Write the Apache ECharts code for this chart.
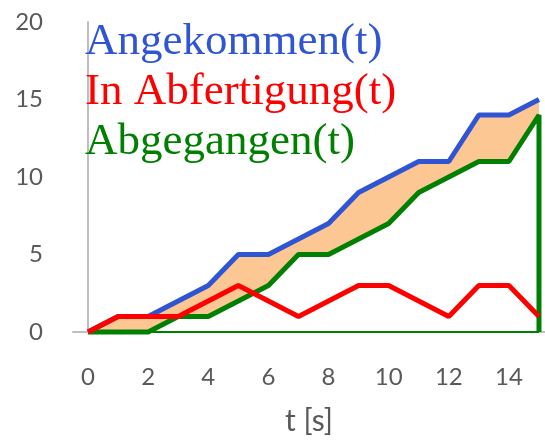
<!DOCTYPE html>
<html>
<head>
    <meta charset="utf-8">
    <title>Warteschlange</title>
    <script src="https://cdn.jsdelivr.net/npm/echarts@6/dist/echarts.min.js"></script>
</head>
<style>
    body { margin: 0; background: #fff; }
</style>
<body>
    <div id="main" style="width: 545px;height:441px;"></div>
    <script type="text/javascript">
        // Daten
        var zeit = [0, 1, 2, 3, 4, 5, 6, 7, 8, 9, 10, 11, 12, 13, 14, 15];
        var angekommen = [0, 1, 1, 2, 3, 5, 5, 6, 7, 9, 10, 11, 11, 14, 14, 15];
        var inAbfertigung = [0, 1, 1, 1, 2, 3, 2, 1, 2, 3, 3, 2, 1, 3, 3, 1];
        var abgegangen = [0, 0, 0, 1, 1, 2, 3, 5, 5, 6, 7, 9, 10, 11, 11, 14];
        var xTicks = [0, 2, 4, 6, 8, 10, 12, 14];

        function paare(ys) {
            return zeit.map(function (t, i) { return [t, ys[i]]; });
        }
        // green line drops to the axis at the end, then a thin line back to the start
        var abgLinie = paare(abgegangen).concat([[15, 0]]);
        var abgBoden = [[15, 0], [0, 0]];

        var myChart = echarts.init(document.getElementById('main'));

        var serif = 'Liberation Serif';
        var option = {
            animation: false,
            title: {
                left: 80,
                top: 12,
                text: '{a|Angekommen(t)}\n{b|In Abfertigung(t)}\n{c|Abgegangen(t)}',
                textStyle: {
                    rich: {
                        a: { color: '#2F55D4', fontSize: 45, fontFamily: serif, fontWeight: 'normal', lineHeight: 50 },
                        b: { color: '#FF0000', fontSize: 45, fontFamily: serif, fontWeight: 'normal', lineHeight: 50 },
                        c: { color: '#008000', fontSize: 45, fontFamily: serif, fontWeight: 'normal', lineHeight: 50 }
                    }
                }
            },
            grid: { left: 73, right: 0, top: 22, bottom: 108 },
            xAxis: {
                type: 'value',
                min: -0.5,
                max: 15.2,
                name: 't [s]',
                nameLocation: 'middle',
                nameGap: 74,
                nameTextStyle: { fontSize: 30, color: '#595959', fontFamily: 'Lato' },
                splitLine: { show: false },
                axisTick: { show: false },
                axisLine: { lineStyle: { color: '#BFBFBF', width: 2 } },
                axisLabel: {
                    customValues: xTicks,
                    fontSize: 24, color: '#595959', fontFamily: 'Lato', margin: 33
                }
            },
            yAxis: {
                type: 'value',
                min: 0,
                max: 20,
                interval: 5,
                splitLine: { show: false },
                axisTick: { show: false },
                axisLine: { show: true, lineStyle: { color: '#BFBFBF', width: 2 } },
                axisLabel: { fontSize: 24, color: '#595959', fontFamily: 'Lato', margin: 30 }
            },
            series: [
                {
                    type: 'line',
                    data: paare(angekommen),
                    symbol: 'none',
                    lineStyle: { width: 0 },
                    areaStyle: { color: '#FDC794', opacity: 1 },
                    z: 1
                },
                {
                    type: 'line',
                    data: paare(abgegangen),
                    symbol: 'none',
                    lineStyle: { width: 0 },
                    areaStyle: { color: '#FFFFFF', opacity: 1 },
                    z: 2
                },
                {
                    type: 'line',
                    data: abgBoden,
                    symbol: 'none',
                    clip: false,
                    lineStyle: { color: '#008000', width: 2 },
                    z: 3
                },
                {
                    name: 'Abgegangen(t)',
                    type: 'line',
                    data: abgLinie,
                    symbol: 'none',
                    clip: false,
                    lineStyle: { color: '#008000', width: 5 },
                    z: 3
                },
                {
                    name: 'Angekommen(t)',
                    type: 'line',
                    data: paare(angekommen),
                    symbol: 'none',
                    lineStyle: { color: '#2F55D4', width: 5 },
                    z: 4
                },
                {
                    name: 'In Abfertigung(t)',
                    type: 'line',
                    data: paare(inAbfertigung),
                    symbol: 'none',
                    lineStyle: { color: '#FF0000', width: 5 },
                    z: 5
                }
            ]
        };
        myChart.setOption(option);
    </script>
</body>
</html>
